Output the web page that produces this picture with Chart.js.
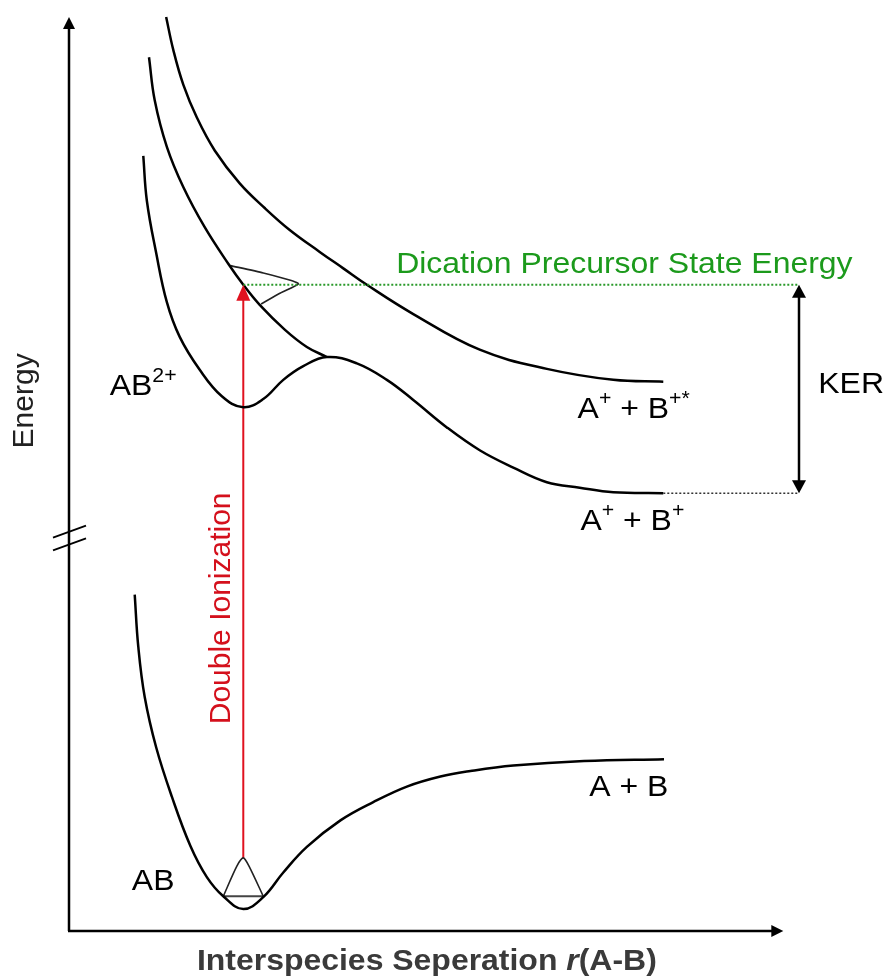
<!DOCTYPE html>
<html>
<head>
<meta charset="utf-8">
<script src="https://cdn.jsdelivr.net/npm/chart.js@4/dist/chart.umd.min.js"></script>
<style>
  html, body { margin: 0; padding: 0; background: #ffffff; }
  #wrap { width: 887px; height: 976px; }
</style>
</head>
<body>
<div id="wrap"><canvas id="pes"></canvas></div>
<script>
// Potential energy curves: internuclear separation r and energy E, arbitrary units.
// The energy axis is broken between the neutral well and the dication manifold.

// Neutral ground state AB -> A + B
const groundR = [0.92, 0.97, 1.06, 1.22, 1.44, 1.70, 1.93, 2.16, 2.44, 2.72, 3.00, 3.33, 3.80, 4.26, 4.73, 5.20, 5.62, 6.22, 7.21, 8.33];
const groundE = [3.68, 3.11, 2.56, 2.01, 1.47, 0.93, 0.59, 0.38, 0.24, 0.37, 0.64, 0.92, 1.21, 1.41, 1.58, 1.69, 1.75, 1.81, 1.86, 1.88];

// Metastable dication AB2+ -> A+ + B+
const dicationR = [1.04, 1.09, 1.22, 1.37, 1.55, 1.83, 2.14, 2.44, 2.72, 3.00, 3.28, 3.61, 4.03, 4.45, 4.82, 5.29, 5.75, 6.22, 6.69, 7.15, 7.62, 8.32];
const dicationE = [8.48, 7.99, 7.42, 6.88, 6.50, 6.14, 5.85, 5.73, 5.82, 6.03, 6.18, 6.28, 6.21, 6.03, 5.81, 5.51, 5.26, 5.07, 4.91, 4.85, 4.80, 4.79];

// Repulsive state crossing into the dication barrier
const repulsiveR = [1.12, 1.20, 1.37, 1.60, 1.90, 2.23, 2.44, 2.67, 3.02, 3.33, 3.61];
const repulsiveE = [9.56, 9.09, 8.58, 8.14, 7.70, 7.30, 7.07, 6.85, 6.58, 6.39, 6.28];

// Excited repulsive state -> A+ + B+*
const excitedR = [1.36, 1.46, 1.60, 1.79, 2.04, 2.39, 2.74, 3.09, 3.51, 3.84, 4.17, 4.82, 5.75, 6.69, 7.62, 8.32];
const excitedE = [10.00, 9.64, 9.26, 8.90, 8.54, 8.18, 7.91, 7.67, 7.43, 7.25, 7.07, 6.75, 6.36, 6.15, 6.03, 6.01];

// Vibrational wave packets
const groundPacketR = [2.16, 2.35, 2.44, 2.52, 2.72];
const groundPacketE = [0.38, 0.71, 0.80, 0.71, 0.38];
const precursorPacketR = [2.26, 2.72, 3.10, 3.21, 2.96, 2.69];
const precursorPacketE = [7.28, 7.20, 7.12, 7.08, 6.98, 6.86];

// Energy levels and transition
const equilibriumR = 2.44;
const packetTopE = 0.80;
const precursorE = 7.07;
const ionicLimitE = 4.79;
const limitR = 8.32;
const kerR = 10.22;

const pts = (rs, es) => rs.map((r, i) => ({ x: r, y: es[i] }));

const FONT = '"Liberation Sans", Arial, Helvetica, sans-serif';

function richText(ctx, parts, x, y, align, size, sx, color) {
  ctx.save();
  ctx.fillStyle = color;
  ctx.textBaseline = 'alphabetic';
  ctx.textAlign = 'left';
  const fontOf = p => (p.style || '') + ' ' + (p.sup ? Math.round(size * 0.66) : size) + 'px ' + FONT;
  let w = 0;
  parts.forEach(p => { ctx.font = fontOf(p); w += ctx.measureText(p.t).width; });
  let start = align === 'center' ? -w / 2 : align === 'right' ? -w : 0;
  ctx.translate(x, y);
  ctx.scale(sx, 1);
  let cx = start;
  parts.forEach(p => {
    ctx.font = fontOf(p);
    ctx.fillText(p.t, cx, p.sup ? -size * 0.43 : 0);
    cx += ctx.measureText(p.t).width;
  });
  ctx.restore();
}

function arrowHead(ctx, tipX, tipY, dirX, dirY, len, half, color) {
  ctx.save();
  ctx.fillStyle = color;
  ctx.beginPath();
  ctx.moveTo(tipX, tipY);
  ctx.lineTo(tipX - dirX * len - dirY * half, tipY - dirY * len + dirX * half);
  ctx.lineTo(tipX - dirX * len + dirY * half, tipY - dirY * len - dirX * half);
  ctx.closePath();
  ctx.fill();
  ctx.restore();
}

const decorations = {
  id: 'decorations',
  beforeDatasetsDraw(chart) {
    const { ctx, scales: { x, y } } = chart;
    const X = v => x.getPixelForValue(v), Y = v => y.getPixelForValue(v);
    ctx.save();
    ctx.strokeStyle = '#000';
    ctx.lineWidth = 2.5;
    // energy axis
    ctx.beginPath();
    ctx.moveTo(X(0), Y(0));
    ctx.lineTo(X(0), Y(10) + 8);
    ctx.stroke();
    arrowHead(ctx, X(0), Y(10), 0, -1, 12, 6, '#000');
    // separation axis
    ctx.beginPath();
    ctx.moveTo(X(0) - 1, Y(0));
    ctx.lineTo(X(10) - 8, Y(0));
    ctx.stroke();
    arrowHead(ctx, X(10), Y(0), 1, 0, 12, 6, '#000');
    // axis break marks
    ctx.lineWidth = 2;
    [4.37, 4.23].forEach(e => {
      ctx.beginPath();
      ctx.moveTo(X(0) - 16, Y(e) + 6);
      ctx.lineTo(X(0) + 17, Y(e) - 6);
      ctx.stroke();
    });
    ctx.restore();
  },
  afterDatasetsDraw(chart) {
    const { ctx, scales: { x, y } } = chart;
    const X = v => x.getPixelForValue(v), Y = v => y.getPixelForValue(v);
    // arrowheads on the ionization and KER arrows
    arrowHead(ctx, X(equilibriumR), Y(precursorE), 0, -1, 16, 7, '#e0121f');
    arrowHead(ctx, X(kerR), Y(precursorE), 0, -1, 13, 7, '#000');
    arrowHead(ctx, X(kerR), Y(ionicLimitE), 0, 1, 13, 7, '#000');

    const SX = 1.065;
    const black = '#000';
    richText(ctx, [{ t: 'AB' }, { t: '2+', sup: true }], X(0.57), Y(5.86), 'left', 30, SX, black);
    richText(ctx, [{ t: 'AB' }], X(0.88), Y(0.45), 'left', 30, SX, black);
    richText(ctx, [{ t: 'A + B' }], X(8.39), Y(1.48), 'right', 30, SX, black);
    richText(ctx, [{ t: 'A' }, { t: '+', sup: true }, { t: ' + B' }, { t: '+*', sup: true }], X(7.12), Y(5.61), 'left', 30, SX, black);
    richText(ctx, [{ t: 'A' }, { t: '+', sup: true }, { t: ' + B' }, { t: '+', sup: true }], X(7.16), Y(4.39), 'left', 30, SX, black);
    richText(ctx, [{ t: 'KER' }], X(10.49), Y(5.89), 'left', 30, SX, black);
    richText(ctx, [{ t: 'Dication Precursor State Energy' }], X(10.97), Y(7.20), 'right', 30, SX, '#1c9a1c');

    // axis titles
    richText(ctx, [{ t: 'Interspecies Seperation ', style: 'bold' }, { t: 'r', style: 'italic bold' }, { t: '(A-B)', style: 'bold' }],
      X(5.01), Y(-0.43), 'center', 30, SX, '#3a3a3a');

    ctx.save();
    ctx.textAlign = 'center';
    ctx.textBaseline = 'alphabetic';
    ctx.font = '30px ' + FONT;
    ctx.fillStyle = '#222';
    ctx.translate(X(-0.50), Y(5.80));
    ctx.rotate(-Math.PI / 2);
    ctx.fillText('Energy', 0, 0);
    ctx.restore();

    ctx.save();
    ctx.textAlign = 'center';
    ctx.textBaseline = 'alphabetic';
    ctx.font = '30px ' + FONT;
    ctx.fillStyle = '#d4101c';
    ctx.translate(X(2.255), Y(3.53));
    ctx.rotate(-Math.PI / 2);
    ctx.fillText('Double Ionization', 0, 0);
    ctx.restore();
  }
};

const curve = (rs, es, extra) => Object.assign({
  data: pts(rs, es),
  borderColor: '#000',
  borderWidth: 2.5,
  pointRadius: 0,
  fill: false,
  tension: 0.4,
  clip: false
}, extra || {});

new Chart(document.getElementById('pes'), {
  type: 'line',
  data: {
    datasets: [
      // guide lines
      curve([equilibriumR, kerR], [precursorE, precursorE], { borderColor: '#2a9a2a', borderWidth: 2, borderDash: [2, 2], tension: 0 }),
      curve([limitR, kerR], [ionicLimitE, ionicLimitE], { borderColor: '#333', borderWidth: 1.6, borderDash: [2, 2], tension: 0 }),
      // potential curves
      curve(groundR, groundE),
      curve(dicationR, dicationE),
      curve(repulsiveR, repulsiveE),
      curve(excitedR, excitedE),
      // wave packets
      curve(groundPacketR, groundPacketE, { borderWidth: 1.6, borderColor: '#222', tension: 0.25 }),
      curve([groundPacketR[0], groundPacketR[groundPacketR.length - 1]], [groundPacketE[0], groundPacketE[groundPacketE.length - 1]], { borderWidth: 2, borderColor: '#444', tension: 0 }),
      curve(precursorPacketR, precursorPacketE, { borderWidth: 1.6, borderColor: '#222', tension: 0.2 }),
      // vertical transitions
      curve([equilibriumR, equilibriumR], [packetTopE, precursorE - 0.12], { borderColor: '#e0121f', borderWidth: 2, tension: 0 }),
      curve([kerR, kerR], [ionicLimitE + 0.1, precursorE - 0.1], { borderColor: '#000', borderWidth: 2.5, tension: 0 })
    ]
  },
  options: {
    responsive: true,
    maintainAspectRatio: false,
    animation: false,
    layout: { padding: { left: 69, right: 18, top: 17, bottom: 45 } },
    scales: {
      x: { type: 'linear', min: 0, max: 11.2, display: false },
      y: { type: 'linear', min: 0, max: 10, display: false }
    },
    plugins: { legend: { display: false }, tooltip: { enabled: false } },
    events: []
  },
  plugins: [decorations]
});
</script>
</body>
</html>
